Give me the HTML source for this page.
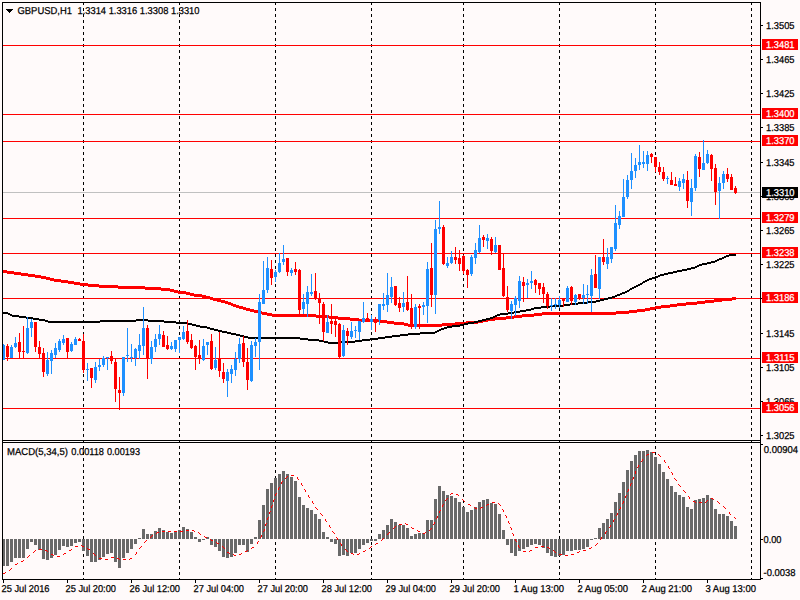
<!DOCTYPE html>
<html><head><meta charset="utf-8"><title>GBPUSD,H1</title>
<style>html,body{margin:0;padding:0;background:#FFFAFA;overflow:hidden}body{width:800px;height:600px;position:relative;font-family:"Liberation Sans",sans-serif}</style></head>
<body>
<svg width="800" height="600" viewBox="0 0 800 600" shape-rendering="crispEdges" style="position:absolute;left:0;top:0">
<rect x="0" y="0" width="800" height="600" fill="#FFFAFA"/>
<g stroke="#000" stroke-width="1" stroke-dasharray="3,3">
<line x1="83.5" y1="2" x2="83.5" y2="579"/>
<line x1="179.5" y1="2" x2="179.5" y2="579"/>
<line x1="275.5" y1="2" x2="275.5" y2="579"/>
<line x1="371.5" y1="2" x2="371.5" y2="579"/>
<line x1="463.5" y1="2" x2="463.5" y2="579"/>
<line x1="559.5" y1="2" x2="559.5" y2="579"/>
<line x1="655.5" y1="2" x2="655.5" y2="579"/>
<line x1="751.5" y1="2" x2="751.5" y2="579"/>
</g>
<g fill="#FF0000">
<rect x="3" y="45" width="757" height="1"/>
<rect x="3" y="114" width="757" height="1"/>
<rect x="3" y="141" width="757" height="1"/>
<rect x="3" y="218" width="757" height="1"/>
<rect x="3" y="253" width="757" height="1"/>
<rect x="3" y="298" width="757" height="1"/>
<rect x="3" y="358" width="757" height="1"/>
<rect x="3" y="408" width="757" height="1"/>
</g>
<rect x="3" y="192" width="757" height="1" fill="#C0C0C0"/>
<g fill="#FF0000">
<rect x="3" y="270" width="4" height="3"/>
<rect x="7" y="271" width="7" height="3"/>
<rect x="14" y="272" width="7" height="3"/>
<rect x="21" y="273" width="7" height="3"/>
<rect x="28" y="274" width="7" height="3"/>
<rect x="35" y="275" width="6" height="3"/>
<rect x="41" y="276" width="5" height="3"/>
<rect x="46" y="277" width="4" height="3"/>
<rect x="50" y="278" width="4" height="3"/>
<rect x="54" y="279" width="7" height="3"/>
<rect x="61" y="280" width="7" height="3"/>
<rect x="68" y="281" width="6" height="3"/>
<rect x="74" y="282" width="6" height="3"/>
<rect x="80" y="283" width="8" height="3"/>
<rect x="88" y="284" width="11" height="3"/>
<rect x="99" y="285" width="19" height="3"/>
<rect x="118" y="286" width="27" height="3"/>
<rect x="145" y="287" width="16" height="3"/>
<rect x="161" y="288" width="9" height="3"/>
<rect x="170" y="289" width="4" height="3"/>
<rect x="174" y="290" width="4" height="3"/>
<rect x="178" y="291" width="8" height="3"/>
<rect x="186" y="292" width="4" height="3"/>
<rect x="190" y="293" width="4" height="3"/>
<rect x="194" y="294" width="8" height="3"/>
<rect x="202" y="295" width="4" height="3"/>
<rect x="206" y="296" width="4" height="3"/>
<rect x="210" y="297" width="3" height="3"/>
<rect x="213" y="298" width="4" height="3"/>
<rect x="217" y="299" width="4" height="3"/>
<rect x="221" y="300" width="4" height="3"/>
<rect x="225" y="301" width="3" height="3"/>
<rect x="228" y="302" width="3" height="3"/>
<rect x="231" y="303" width="2" height="3"/>
<rect x="233" y="304" width="3" height="3"/>
<rect x="236" y="305" width="3" height="3"/>
<rect x="239" y="306" width="4" height="3"/>
<rect x="243" y="307" width="3" height="3"/>
<rect x="246" y="308" width="4" height="3"/>
<rect x="250" y="309" width="4" height="3"/>
<rect x="254" y="310" width="4" height="3"/>
<rect x="258" y="311" width="4" height="3"/>
<rect x="262" y="312" width="5" height="3"/>
<rect x="267" y="313" width="5" height="3"/>
<rect x="272" y="314" width="44" height="3"/>
<rect x="316" y="315" width="13" height="3"/>
<rect x="329" y="316" width="9" height="3"/>
<rect x="338" y="317" width="12" height="3"/>
<rect x="350" y="318" width="9" height="3"/>
<rect x="359" y="319" width="21" height="3"/>
<rect x="380" y="320" width="7" height="3"/>
<rect x="387" y="321" width="7" height="3"/>
<rect x="394" y="322" width="10" height="3"/>
<rect x="404" y="323" width="4" height="3"/>
<rect x="408" y="324" width="34" height="3"/>
<rect x="442" y="323" width="13" height="3"/>
<rect x="455" y="322" width="11" height="3"/>
<rect x="466" y="321" width="12" height="3"/>
<rect x="478" y="320" width="5" height="3"/>
<rect x="483" y="319" width="5" height="3"/>
<rect x="488" y="318" width="7" height="3"/>
<rect x="495" y="317" width="11" height="3"/>
<rect x="506" y="316" width="8" height="3"/>
<rect x="514" y="315" width="8" height="3"/>
<rect x="522" y="314" width="12" height="3"/>
<rect x="534" y="313" width="8" height="3"/>
<rect x="542" y="312" width="74" height="3"/>
<rect x="616" y="311" width="13" height="3"/>
<rect x="629" y="310" width="8" height="3"/>
<rect x="637" y="309" width="8" height="3"/>
<rect x="645" y="308" width="5" height="3"/>
<rect x="650" y="307" width="5" height="3"/>
<rect x="655" y="306" width="6" height="3"/>
<rect x="661" y="305" width="9" height="3"/>
<rect x="670" y="304" width="7" height="3"/>
<rect x="677" y="303" width="9" height="3"/>
<rect x="686" y="302" width="11" height="3"/>
<rect x="697" y="301" width="8" height="3"/>
<rect x="705" y="300" width="9" height="3"/>
<rect x="714" y="299" width="8" height="3"/>
<rect x="722" y="298" width="10" height="3"/>
<rect x="732" y="297" width="4" height="3"/>
</g>
<g fill="#000">
<rect x="3" y="312" width="5" height="2"/>
<rect x="8" y="313" width="2" height="2"/>
<rect x="10" y="314" width="2" height="2"/>
<rect x="12" y="315" width="7" height="2"/>
<rect x="19" y="316" width="7" height="2"/>
<rect x="26" y="317" width="7" height="2"/>
<rect x="33" y="318" width="6" height="2"/>
<rect x="39" y="319" width="6" height="2"/>
<rect x="45" y="320" width="3" height="2"/>
<rect x="48" y="321" width="52" height="2"/>
<rect x="100" y="320" width="36" height="2"/>
<rect x="136" y="319" width="12" height="2"/>
<rect x="148" y="320" width="16" height="2"/>
<rect x="164" y="321" width="12" height="2"/>
<rect x="176" y="322" width="12" height="2"/>
<rect x="188" y="323" width="4" height="2"/>
<rect x="192" y="324" width="4" height="2"/>
<rect x="196" y="325" width="4" height="2"/>
<rect x="200" y="326" width="7" height="2"/>
<rect x="207" y="327" width="3" height="2"/>
<rect x="210" y="328" width="4" height="2"/>
<rect x="214" y="329" width="4" height="2"/>
<rect x="218" y="330" width="4" height="2"/>
<rect x="222" y="331" width="5" height="2"/>
<rect x="227" y="332" width="4" height="2"/>
<rect x="231" y="333" width="5" height="2"/>
<rect x="236" y="334" width="4" height="2"/>
<rect x="240" y="335" width="4" height="2"/>
<rect x="244" y="336" width="4" height="2"/>
<rect x="248" y="337" width="52" height="2"/>
<rect x="300" y="338" width="8" height="2"/>
<rect x="308" y="339" width="11" height="2"/>
<rect x="319" y="340" width="5" height="2"/>
<rect x="324" y="341" width="4" height="2"/>
<rect x="328" y="342" width="10" height="2"/>
<rect x="338" y="341" width="17" height="2"/>
<rect x="355" y="340" width="7" height="2"/>
<rect x="362" y="339" width="8" height="2"/>
<rect x="370" y="338" width="8" height="2"/>
<rect x="378" y="337" width="7" height="2"/>
<rect x="385" y="336" width="7" height="2"/>
<rect x="392" y="335" width="8" height="2"/>
<rect x="400" y="334" width="8" height="2"/>
<rect x="408" y="333" width="12" height="2"/>
<rect x="420" y="332" width="15" height="2"/>
<rect x="435" y="331" width="2" height="2"/>
<rect x="437" y="330" width="2" height="2"/>
<rect x="439" y="329" width="2" height="2"/>
<rect x="441" y="328" width="3" height="2"/>
<rect x="444" y="327" width="3" height="2"/>
<rect x="447" y="326" width="5" height="2"/>
<rect x="452" y="325" width="8" height="2"/>
<rect x="460" y="324" width="4" height="2"/>
<rect x="464" y="323" width="4" height="2"/>
<rect x="468" y="322" width="6" height="2"/>
<rect x="474" y="321" width="4" height="2"/>
<rect x="478" y="320" width="4" height="2"/>
<rect x="482" y="319" width="4" height="2"/>
<rect x="486" y="318" width="4" height="2"/>
<rect x="490" y="317" width="3" height="2"/>
<rect x="493" y="316" width="2" height="2"/>
<rect x="495" y="315" width="2" height="2"/>
<rect x="497" y="314" width="3" height="2"/>
<rect x="500" y="313" width="8" height="2"/>
<rect x="508" y="312" width="6" height="2"/>
<rect x="514" y="311" width="6" height="2"/>
<rect x="520" y="310" width="6" height="2"/>
<rect x="526" y="309" width="5" height="2"/>
<rect x="531" y="308" width="3" height="2"/>
<rect x="534" y="307" width="7" height="2"/>
<rect x="541" y="306" width="9" height="2"/>
<rect x="550" y="305" width="13" height="2"/>
<rect x="563" y="304" width="7" height="2"/>
<rect x="570" y="303" width="8" height="2"/>
<rect x="578" y="302" width="10" height="2"/>
<rect x="588" y="301" width="8" height="2"/>
<rect x="596" y="300" width="4" height="2"/>
<rect x="600" y="299" width="4" height="2"/>
<rect x="604" y="298" width="4" height="2"/>
<rect x="608" y="297" width="4" height="2"/>
<rect x="612" y="296" width="3" height="2"/>
<rect x="615" y="295" width="2" height="2"/>
<rect x="617" y="294" width="3" height="2"/>
<rect x="620" y="293" width="2" height="2"/>
<rect x="622" y="292" width="3" height="2"/>
<rect x="625" y="291" width="2" height="2"/>
<rect x="627" y="290" width="2" height="2"/>
<rect x="629" y="289" width="1" height="2"/>
<rect x="630" y="288" width="2" height="2"/>
<rect x="632" y="287" width="2" height="2"/>
<rect x="634" y="286" width="2" height="2"/>
<rect x="636" y="285" width="2" height="2"/>
<rect x="638" y="284" width="2" height="2"/>
<rect x="640" y="283" width="2" height="2"/>
<rect x="642" y="282" width="1" height="2"/>
<rect x="643" y="281" width="2" height="2"/>
<rect x="645" y="280" width="2" height="2"/>
<rect x="647" y="279" width="2" height="2"/>
<rect x="649" y="278" width="3" height="2"/>
<rect x="652" y="277" width="3" height="2"/>
<rect x="655" y="276" width="3" height="2"/>
<rect x="658" y="275" width="2" height="2"/>
<rect x="660" y="274" width="4" height="2"/>
<rect x="664" y="273" width="4" height="2"/>
<rect x="668" y="272" width="5" height="2"/>
<rect x="673" y="271" width="4" height="2"/>
<rect x="677" y="270" width="5" height="2"/>
<rect x="682" y="269" width="5" height="2"/>
<rect x="687" y="268" width="4" height="2"/>
<rect x="691" y="267" width="4" height="2"/>
<rect x="695" y="266" width="2" height="2"/>
<rect x="697" y="265" width="2" height="2"/>
<rect x="699" y="264" width="3" height="2"/>
<rect x="702" y="263" width="5" height="2"/>
<rect x="707" y="262" width="4" height="2"/>
<rect x="711" y="261" width="4" height="2"/>
<rect x="715" y="260" width="2" height="2"/>
<rect x="717" y="259" width="2" height="2"/>
<rect x="719" y="258" width="3" height="2"/>
<rect x="722" y="257" width="2" height="2"/>
<rect x="724" y="256" width="2" height="2"/>
<rect x="726" y="255" width="3" height="2"/>
<rect x="729" y="254" width="7" height="2"/>
</g>
<g fill="#1E90FF">
<rect x="3" y="344" width="1" height="16"/>
<rect x="2" y="345" width="3" height="15"/>
<rect x="11" y="345" width="1" height="13"/>
<rect x="10" y="347" width="3" height="11"/>
<rect x="15" y="337" width="1" height="11"/>
<rect x="14" y="343" width="3" height="4"/>
<rect x="27" y="317" width="1" height="37"/>
<rect x="26" y="328" width="3" height="25"/>
<rect x="31" y="319" width="1" height="18"/>
<rect x="30" y="322" width="3" height="6"/>
<rect x="47" y="352" width="1" height="24"/>
<rect x="46" y="360" width="3" height="14"/>
<rect x="51" y="350" width="1" height="24"/>
<rect x="50" y="353" width="3" height="8"/>
<rect x="55" y="343" width="1" height="15"/>
<rect x="54" y="348" width="3" height="7"/>
<rect x="59" y="339" width="1" height="13"/>
<rect x="58" y="341" width="3" height="9"/>
<rect x="63" y="335" width="1" height="10"/>
<rect x="62" y="339" width="3" height="4"/>
<rect x="71" y="342" width="1" height="10"/>
<rect x="70" y="344" width="3" height="7"/>
<rect x="75" y="337" width="1" height="8"/>
<rect x="74" y="339" width="3" height="6"/>
<rect x="87" y="363" width="1" height="18"/>
<rect x="86" y="369" width="3" height="1"/>
<rect x="95" y="362" width="1" height="21"/>
<rect x="94" y="367" width="3" height="13"/>
<rect x="99" y="359" width="1" height="12"/>
<rect x="98" y="365" width="3" height="2"/>
<rect x="103" y="356" width="1" height="11"/>
<rect x="102" y="358" width="3" height="7"/>
<rect x="107" y="357" width="1" height="13"/>
<rect x="106" y="357" width="3" height="1"/>
<rect x="123" y="357" width="1" height="39"/>
<rect x="122" y="357" width="3" height="36"/>
<rect x="127" y="328" width="1" height="34"/>
<rect x="126" y="355" width="3" height="1"/>
<rect x="131" y="344" width="1" height="18"/>
<rect x="130" y="357" width="3" height="1"/>
<rect x="135" y="348" width="1" height="18"/>
<rect x="134" y="349" width="3" height="9"/>
<rect x="139" y="334" width="1" height="25"/>
<rect x="138" y="345" width="3" height="6"/>
<rect x="143" y="307" width="1" height="48"/>
<rect x="142" y="328" width="3" height="18"/>
<rect x="151" y="341" width="1" height="23"/>
<rect x="150" y="347" width="3" height="12"/>
<rect x="155" y="334" width="1" height="18"/>
<rect x="154" y="339" width="3" height="8"/>
<rect x="159" y="325" width="1" height="20"/>
<rect x="158" y="334" width="3" height="5"/>
<rect x="171" y="342" width="1" height="8"/>
<rect x="170" y="346" width="3" height="3"/>
<rect x="175" y="340" width="1" height="12"/>
<rect x="174" y="340" width="3" height="9"/>
<rect x="179" y="337" width="1" height="16"/>
<rect x="178" y="337" width="3" height="3"/>
<rect x="183" y="326" width="1" height="14"/>
<rect x="182" y="332" width="3" height="7"/>
<rect x="203" y="339" width="1" height="22"/>
<rect x="202" y="346" width="3" height="14"/>
<rect x="207" y="342" width="1" height="13"/>
<rect x="206" y="342" width="3" height="3"/>
<rect x="215" y="347" width="1" height="23"/>
<rect x="214" y="360" width="3" height="8"/>
<rect x="227" y="369" width="1" height="28"/>
<rect x="226" y="372" width="3" height="9"/>
<rect x="231" y="365" width="1" height="18"/>
<rect x="230" y="369" width="3" height="5"/>
<rect x="235" y="352" width="1" height="24"/>
<rect x="234" y="359" width="3" height="11"/>
<rect x="239" y="338" width="1" height="25"/>
<rect x="238" y="344" width="3" height="15"/>
<rect x="251" y="341" width="1" height="41"/>
<rect x="250" y="345" width="3" height="36"/>
<rect x="255" y="338" width="1" height="19"/>
<rect x="254" y="342" width="3" height="4"/>
<rect x="259" y="294" width="1" height="76"/>
<rect x="258" y="302" width="3" height="40"/>
<rect x="263" y="261" width="1" height="43"/>
<rect x="262" y="290" width="3" height="14"/>
<rect x="267" y="257" width="1" height="36"/>
<rect x="266" y="268" width="3" height="22"/>
<rect x="275" y="270" width="1" height="12"/>
<rect x="274" y="272" width="3" height="5"/>
<rect x="279" y="253" width="1" height="20"/>
<rect x="278" y="263" width="3" height="9"/>
<rect x="283" y="245" width="1" height="20"/>
<rect x="282" y="259" width="3" height="3"/>
<rect x="291" y="268" width="1" height="8"/>
<rect x="290" y="270" width="3" height="3"/>
<rect x="303" y="294" width="1" height="20"/>
<rect x="302" y="302" width="3" height="7"/>
<rect x="307" y="286" width="1" height="31"/>
<rect x="306" y="292" width="3" height="12"/>
<rect x="311" y="274" width="1" height="22"/>
<rect x="310" y="292" width="3" height="2"/>
<rect x="327" y="315" width="1" height="18"/>
<rect x="326" y="322" width="3" height="11"/>
<rect x="343" y="325" width="1" height="32"/>
<rect x="342" y="330" width="3" height="26"/>
<rect x="351" y="322" width="1" height="17"/>
<rect x="350" y="331" width="3" height="6"/>
<rect x="355" y="326" width="1" height="12"/>
<rect x="354" y="330" width="3" height="1"/>
<rect x="359" y="321" width="1" height="19"/>
<rect x="358" y="321" width="3" height="11"/>
<rect x="363" y="302" width="1" height="21"/>
<rect x="362" y="318" width="3" height="4"/>
<rect x="371" y="315" width="1" height="15"/>
<rect x="370" y="319" width="3" height="3"/>
<rect x="379" y="304" width="1" height="21"/>
<rect x="378" y="304" width="3" height="16"/>
<rect x="383" y="293" width="1" height="17"/>
<rect x="382" y="304" width="3" height="2"/>
<rect x="387" y="273" width="1" height="39"/>
<rect x="386" y="295" width="3" height="10"/>
<rect x="391" y="277" width="1" height="26"/>
<rect x="390" y="287" width="3" height="10"/>
<rect x="403" y="292" width="1" height="20"/>
<rect x="402" y="303" width="3" height="4"/>
<rect x="415" y="304" width="1" height="25"/>
<rect x="414" y="307" width="3" height="20"/>
<rect x="423" y="302" width="1" height="13"/>
<rect x="422" y="305" width="3" height="2"/>
<rect x="427" y="262" width="1" height="61"/>
<rect x="426" y="269" width="3" height="37"/>
<rect x="435" y="220" width="1" height="94"/>
<rect x="434" y="229" width="3" height="66"/>
<rect x="439" y="201" width="1" height="33"/>
<rect x="438" y="227" width="3" height="2"/>
<rect x="447" y="257" width="1" height="11"/>
<rect x="446" y="263" width="3" height="3"/>
<rect x="451" y="251" width="1" height="13"/>
<rect x="450" y="257" width="3" height="6"/>
<rect x="471" y="255" width="1" height="21"/>
<rect x="470" y="257" width="3" height="17"/>
<rect x="475" y="243" width="1" height="21"/>
<rect x="474" y="250" width="3" height="8"/>
<rect x="479" y="225" width="1" height="28"/>
<rect x="478" y="238" width="3" height="14"/>
<rect x="487" y="234" width="1" height="15"/>
<rect x="486" y="238" width="3" height="3"/>
<rect x="495" y="237" width="1" height="16"/>
<rect x="494" y="245" width="3" height="7"/>
<rect x="511" y="301" width="1" height="18"/>
<rect x="510" y="304" width="3" height="7"/>
<rect x="515" y="296" width="1" height="20"/>
<rect x="514" y="298" width="3" height="7"/>
<rect x="519" y="276" width="1" height="32"/>
<rect x="518" y="281" width="3" height="20"/>
<rect x="527" y="279" width="1" height="19"/>
<rect x="526" y="283" width="3" height="2"/>
<rect x="531" y="271" width="1" height="18"/>
<rect x="530" y="281" width="3" height="2"/>
<rect x="551" y="298" width="1" height="13"/>
<rect x="550" y="305" width="3" height="1"/>
<rect x="555" y="298" width="1" height="11"/>
<rect x="554" y="304" width="3" height="1"/>
<rect x="559" y="296" width="1" height="12"/>
<rect x="558" y="300" width="3" height="5"/>
<rect x="567" y="286" width="1" height="16"/>
<rect x="566" y="288" width="3" height="14"/>
<rect x="575" y="294" width="1" height="11"/>
<rect x="574" y="295" width="3" height="7"/>
<rect x="583" y="284" width="1" height="20"/>
<rect x="582" y="295" width="3" height="3"/>
<rect x="587" y="285" width="1" height="19"/>
<rect x="586" y="294" width="3" height="1"/>
<rect x="591" y="269" width="1" height="43"/>
<rect x="590" y="275" width="3" height="21"/>
<rect x="599" y="257" width="1" height="42"/>
<rect x="598" y="257" width="3" height="32"/>
<rect x="607" y="248" width="1" height="21"/>
<rect x="606" y="257" width="3" height="7"/>
<rect x="611" y="247" width="1" height="16"/>
<rect x="610" y="247" width="3" height="12"/>
<rect x="615" y="205" width="1" height="46"/>
<rect x="614" y="223" width="3" height="26"/>
<rect x="619" y="211" width="1" height="18"/>
<rect x="618" y="216" width="3" height="9"/>
<rect x="623" y="179" width="1" height="38"/>
<rect x="622" y="197" width="3" height="20"/>
<rect x="627" y="175" width="1" height="24"/>
<rect x="626" y="180" width="3" height="17"/>
<rect x="631" y="153" width="1" height="36"/>
<rect x="630" y="171" width="3" height="9"/>
<rect x="635" y="158" width="1" height="20"/>
<rect x="634" y="165" width="3" height="6"/>
<rect x="639" y="145" width="1" height="25"/>
<rect x="638" y="162" width="3" height="3"/>
<rect x="643" y="151" width="1" height="17"/>
<rect x="642" y="162" width="3" height="2"/>
<rect x="647" y="151" width="1" height="20"/>
<rect x="646" y="155" width="3" height="9"/>
<rect x="667" y="176" width="1" height="8"/>
<rect x="666" y="178" width="3" height="1"/>
<rect x="679" y="178" width="1" height="13"/>
<rect x="678" y="181" width="3" height="6"/>
<rect x="683" y="174" width="1" height="15"/>
<rect x="682" y="179" width="3" height="4"/>
<rect x="691" y="179" width="1" height="37"/>
<rect x="690" y="188" width="3" height="14"/>
<rect x="695" y="154" width="1" height="37"/>
<rect x="694" y="156" width="3" height="32"/>
<rect x="703" y="140" width="1" height="30"/>
<rect x="702" y="163" width="3" height="7"/>
<rect x="707" y="150" width="1" height="14"/>
<rect x="706" y="154" width="3" height="9"/>
<rect x="719" y="177" width="1" height="42"/>
<rect x="718" y="183" width="3" height="8"/>
<rect x="723" y="171" width="1" height="18"/>
<rect x="722" y="174" width="3" height="9"/>
</g>
<g fill="#FF0000">
<rect x="7" y="344" width="1" height="17"/>
<rect x="6" y="346" width="3" height="11"/>
<rect x="19" y="333" width="1" height="25"/>
<rect x="18" y="342" width="3" height="10"/>
<rect x="23" y="326" width="1" height="32"/>
<rect x="22" y="351" width="3" height="1"/>
<rect x="35" y="322" width="1" height="30"/>
<rect x="34" y="322" width="3" height="25"/>
<rect x="39" y="341" width="1" height="18"/>
<rect x="38" y="347" width="3" height="7"/>
<rect x="43" y="348" width="1" height="29"/>
<rect x="42" y="353" width="3" height="19"/>
<rect x="67" y="338" width="1" height="20"/>
<rect x="66" y="338" width="3" height="14"/>
<rect x="79" y="338" width="1" height="3"/>
<rect x="78" y="339" width="3" height="2"/>
<rect x="83" y="334" width="1" height="39"/>
<rect x="82" y="341" width="3" height="29"/>
<rect x="91" y="368" width="1" height="20"/>
<rect x="90" y="368" width="3" height="10"/>
<rect x="111" y="351" width="1" height="13"/>
<rect x="110" y="356" width="3" height="5"/>
<rect x="115" y="358" width="1" height="44"/>
<rect x="114" y="362" width="3" height="27"/>
<rect x="119" y="377" width="1" height="33"/>
<rect x="118" y="390" width="3" height="3"/>
<rect x="147" y="325" width="1" height="54"/>
<rect x="146" y="328" width="3" height="30"/>
<rect x="163" y="331" width="1" height="16"/>
<rect x="162" y="335" width="3" height="12"/>
<rect x="167" y="336" width="1" height="14"/>
<rect x="166" y="345" width="3" height="4"/>
<rect x="187" y="320" width="1" height="24"/>
<rect x="186" y="331" width="3" height="11"/>
<rect x="191" y="334" width="1" height="15"/>
<rect x="190" y="340" width="3" height="8"/>
<rect x="195" y="345" width="1" height="25"/>
<rect x="194" y="346" width="3" height="11"/>
<rect x="199" y="340" width="1" height="24"/>
<rect x="198" y="355" width="3" height="3"/>
<rect x="211" y="334" width="1" height="36"/>
<rect x="210" y="341" width="3" height="28"/>
<rect x="219" y="332" width="1" height="45"/>
<rect x="218" y="358" width="3" height="13"/>
<rect x="223" y="363" width="1" height="20"/>
<rect x="222" y="372" width="3" height="7"/>
<rect x="243" y="336" width="1" height="31"/>
<rect x="242" y="343" width="3" height="19"/>
<rect x="247" y="348" width="1" height="42"/>
<rect x="246" y="362" width="3" height="18"/>
<rect x="271" y="260" width="1" height="25"/>
<rect x="270" y="269" width="3" height="9"/>
<rect x="287" y="258" width="1" height="18"/>
<rect x="286" y="258" width="3" height="14"/>
<rect x="295" y="262" width="1" height="13"/>
<rect x="294" y="269" width="3" height="3"/>
<rect x="299" y="269" width="1" height="45"/>
<rect x="298" y="270" width="3" height="40"/>
<rect x="315" y="273" width="1" height="27"/>
<rect x="314" y="291" width="3" height="7"/>
<rect x="319" y="293" width="1" height="31"/>
<rect x="318" y="298" width="3" height="5"/>
<rect x="323" y="302" width="1" height="39"/>
<rect x="322" y="304" width="3" height="28"/>
<rect x="331" y="304" width="1" height="30"/>
<rect x="330" y="321" width="3" height="3"/>
<rect x="335" y="319" width="1" height="18"/>
<rect x="334" y="321" width="3" height="4"/>
<rect x="339" y="323" width="1" height="35"/>
<rect x="338" y="324" width="3" height="33"/>
<rect x="347" y="328" width="1" height="17"/>
<rect x="346" y="331" width="3" height="5"/>
<rect x="367" y="313" width="1" height="9"/>
<rect x="366" y="318" width="3" height="3"/>
<rect x="375" y="317" width="1" height="15"/>
<rect x="374" y="319" width="3" height="4"/>
<rect x="395" y="286" width="1" height="20"/>
<rect x="394" y="286" width="3" height="19"/>
<rect x="399" y="297" width="1" height="15"/>
<rect x="398" y="303" width="3" height="5"/>
<rect x="407" y="276" width="1" height="35"/>
<rect x="406" y="302" width="3" height="8"/>
<rect x="411" y="294" width="1" height="35"/>
<rect x="410" y="308" width="3" height="19"/>
<rect x="419" y="304" width="1" height="25"/>
<rect x="418" y="306" width="3" height="2"/>
<rect x="431" y="243" width="1" height="64"/>
<rect x="430" y="268" width="3" height="27"/>
<rect x="443" y="225" width="1" height="40"/>
<rect x="442" y="227" width="3" height="37"/>
<rect x="455" y="247" width="1" height="17"/>
<rect x="454" y="257" width="3" height="3"/>
<rect x="459" y="250" width="1" height="21"/>
<rect x="458" y="258" width="3" height="6"/>
<rect x="463" y="255" width="1" height="19"/>
<rect x="462" y="256" width="3" height="15"/>
<rect x="467" y="269" width="1" height="19"/>
<rect x="466" y="270" width="3" height="5"/>
<rect x="483" y="235" width="1" height="12"/>
<rect x="482" y="237" width="3" height="3"/>
<rect x="491" y="237" width="1" height="18"/>
<rect x="490" y="239" width="3" height="12"/>
<rect x="499" y="245" width="1" height="25"/>
<rect x="498" y="245" width="3" height="25"/>
<rect x="503" y="254" width="1" height="43"/>
<rect x="502" y="268" width="3" height="28"/>
<rect x="507" y="286" width="1" height="26"/>
<rect x="506" y="297" width="3" height="13"/>
<rect x="523" y="277" width="1" height="25"/>
<rect x="522" y="282" width="3" height="4"/>
<rect x="535" y="279" width="1" height="14"/>
<rect x="534" y="280" width="3" height="5"/>
<rect x="539" y="283" width="1" height="12"/>
<rect x="538" y="283" width="3" height="6"/>
<rect x="543" y="283" width="1" height="20"/>
<rect x="542" y="287" width="3" height="7"/>
<rect x="547" y="292" width="1" height="17"/>
<rect x="546" y="294" width="3" height="12"/>
<rect x="563" y="298" width="1" height="9"/>
<rect x="562" y="299" width="3" height="2"/>
<rect x="571" y="286" width="1" height="19"/>
<rect x="570" y="287" width="3" height="14"/>
<rect x="579" y="294" width="1" height="6"/>
<rect x="578" y="294" width="3" height="5"/>
<rect x="595" y="255" width="1" height="33"/>
<rect x="594" y="274" width="3" height="14"/>
<rect x="603" y="239" width="1" height="26"/>
<rect x="602" y="257" width="3" height="5"/>
<rect x="651" y="153" width="1" height="10"/>
<rect x="650" y="154" width="3" height="3"/>
<rect x="655" y="157" width="1" height="15"/>
<rect x="654" y="157" width="3" height="10"/>
<rect x="659" y="162" width="1" height="13"/>
<rect x="658" y="167" width="3" height="5"/>
<rect x="663" y="167" width="1" height="14"/>
<rect x="662" y="172" width="3" height="7"/>
<rect x="671" y="172" width="1" height="13"/>
<rect x="670" y="180" width="3" height="5"/>
<rect x="675" y="177" width="1" height="9"/>
<rect x="674" y="184" width="3" height="2"/>
<rect x="687" y="171" width="1" height="37"/>
<rect x="686" y="180" width="3" height="21"/>
<rect x="699" y="152" width="1" height="25"/>
<rect x="698" y="157" width="3" height="12"/>
<rect x="711" y="154" width="1" height="27"/>
<rect x="710" y="155" width="3" height="14"/>
<rect x="715" y="164" width="1" height="41"/>
<rect x="714" y="168" width="3" height="24"/>
<rect x="727" y="168" width="1" height="14"/>
<rect x="726" y="174" width="3" height="5"/>
<rect x="731" y="174" width="1" height="16"/>
<rect x="730" y="177" width="3" height="13"/>
<rect x="735" y="186" width="1" height="8"/>
<rect x="734" y="188" width="3" height="5"/>
</g>
<g fill="#696969">
<rect x="2" y="539" width="3" height="27"/>
<rect x="6" y="539" width="3" height="27"/>
<rect x="10" y="539" width="3" height="23"/>
<rect x="14" y="539" width="3" height="19"/>
<rect x="18" y="539" width="3" height="19"/>
<rect x="22" y="539" width="3" height="19"/>
<rect x="26" y="539" width="3" height="10"/>
<rect x="30" y="539" width="3" height="3"/>
<rect x="34" y="539" width="3" height="6"/>
<rect x="38" y="539" width="3" height="11"/>
<rect x="42" y="539" width="3" height="20"/>
<rect x="46" y="539" width="3" height="21"/>
<rect x="50" y="539" width="3" height="19"/>
<rect x="54" y="539" width="3" height="16"/>
<rect x="58" y="539" width="3" height="11"/>
<rect x="62" y="539" width="3" height="7"/>
<rect x="66" y="539" width="3" height="8"/>
<rect x="70" y="539" width="3" height="7"/>
<rect x="74" y="539" width="3" height="4"/>
<rect x="78" y="539" width="3" height="3"/>
<rect x="82" y="539" width="3" height="12"/>
<rect x="86" y="539" width="3" height="17"/>
<rect x="90" y="539" width="3" height="23"/>
<rect x="94" y="539" width="3" height="23"/>
<rect x="98" y="539" width="3" height="21"/>
<rect x="102" y="539" width="3" height="18"/>
<rect x="106" y="539" width="3" height="15"/>
<rect x="110" y="539" width="3" height="14"/>
<rect x="114" y="539" width="3" height="23"/>
<rect x="118" y="539" width="3" height="29"/>
<rect x="122" y="539" width="3" height="19"/>
<rect x="126" y="539" width="3" height="14"/>
<rect x="130" y="539" width="3" height="10"/>
<rect x="134" y="539" width="3" height="5"/>
<rect x="138" y="538" width="3" height="1"/>
<rect x="142" y="529" width="3" height="10"/>
<rect x="146" y="534" width="3" height="5"/>
<rect x="150" y="534" width="3" height="5"/>
<rect x="154" y="531" width="3" height="8"/>
<rect x="158" y="528" width="3" height="11"/>
<rect x="162" y="530" width="3" height="9"/>
<rect x="166" y="532" width="3" height="7"/>
<rect x="170" y="533" width="3" height="6"/>
<rect x="174" y="531" width="3" height="8"/>
<rect x="178" y="530" width="3" height="9"/>
<rect x="182" y="527" width="3" height="12"/>
<rect x="186" y="529" width="3" height="10"/>
<rect x="190" y="532" width="3" height="7"/>
<rect x="194" y="537" width="3" height="2"/>
<rect x="198" y="539" width="3" height="3"/>
<rect x="202" y="539" width="3" height="1"/>
<rect x="206" y="537" width="3" height="2"/>
<rect x="210" y="539" width="3" height="6"/>
<rect x="214" y="539" width="3" height="8"/>
<rect x="218" y="539" width="3" height="12"/>
<rect x="222" y="539" width="3" height="18"/>
<rect x="226" y="539" width="3" height="19"/>
<rect x="230" y="539" width="3" height="18"/>
<rect x="234" y="539" width="3" height="14"/>
<rect x="238" y="539" width="3" height="6"/>
<rect x="242" y="539" width="3" height="6"/>
<rect x="246" y="539" width="3" height="13"/>
<rect x="250" y="539" width="3" height="5"/>
<rect x="254" y="537" width="3" height="2"/>
<rect x="258" y="520" width="3" height="19"/>
<rect x="262" y="505" width="3" height="34"/>
<rect x="266" y="489" width="3" height="50"/>
<rect x="270" y="483" width="3" height="56"/>
<rect x="274" y="478" width="3" height="61"/>
<rect x="278" y="474" width="3" height="65"/>
<rect x="282" y="471" width="3" height="68"/>
<rect x="286" y="474" width="3" height="65"/>
<rect x="290" y="477" width="3" height="62"/>
<rect x="294" y="481" width="3" height="58"/>
<rect x="298" y="497" width="3" height="42"/>
<rect x="302" y="505" width="3" height="34"/>
<rect x="306" y="508" width="3" height="31"/>
<rect x="310" y="510" width="3" height="29"/>
<rect x="314" y="514" width="3" height="25"/>
<rect x="318" y="519" width="3" height="20"/>
<rect x="322" y="532" width="3" height="7"/>
<rect x="326" y="537" width="3" height="2"/>
<rect x="330" y="539" width="3" height="3"/>
<rect x="334" y="539" width="3" height="5"/>
<rect x="338" y="539" width="3" height="17"/>
<rect x="342" y="539" width="3" height="16"/>
<rect x="346" y="539" width="3" height="17"/>
<rect x="350" y="539" width="3" height="14"/>
<rect x="354" y="539" width="3" height="14"/>
<rect x="358" y="539" width="3" height="10"/>
<rect x="362" y="539" width="3" height="6"/>
<rect x="366" y="539" width="3" height="4"/>
<rect x="370" y="539" width="3" height="2"/>
<rect x="374" y="539" width="3" height="2"/>
<rect x="378" y="534" width="3" height="5"/>
<rect x="382" y="530" width="3" height="9"/>
<rect x="386" y="525" width="3" height="14"/>
<rect x="390" y="519" width="3" height="20"/>
<rect x="394" y="522" width="3" height="17"/>
<rect x="398" y="525" width="3" height="14"/>
<rect x="402" y="525" width="3" height="14"/>
<rect x="406" y="528" width="3" height="11"/>
<rect x="410" y="536" width="3" height="3"/>
<rect x="414" y="534" width="3" height="5"/>
<rect x="418" y="533" width="3" height="6"/>
<rect x="422" y="533" width="3" height="6"/>
<rect x="426" y="520" width="3" height="19"/>
<rect x="430" y="520" width="3" height="19"/>
<rect x="434" y="499" width="3" height="40"/>
<rect x="438" y="486" width="3" height="53"/>
<rect x="442" y="491" width="3" height="48"/>
<rect x="446" y="495" width="3" height="44"/>
<rect x="450" y="496" width="3" height="43"/>
<rect x="454" y="498" width="3" height="41"/>
<rect x="458" y="502" width="3" height="37"/>
<rect x="462" y="507" width="3" height="32"/>
<rect x="466" y="512" width="3" height="27"/>
<rect x="470" y="510" width="3" height="29"/>
<rect x="474" y="507" width="3" height="32"/>
<rect x="478" y="502" width="3" height="37"/>
<rect x="482" y="500" width="3" height="39"/>
<rect x="486" y="499" width="3" height="40"/>
<rect x="490" y="503" width="3" height="36"/>
<rect x="494" y="504" width="3" height="35"/>
<rect x="498" y="514" width="3" height="25"/>
<rect x="502" y="530" width="3" height="9"/>
<rect x="506" y="539" width="3" height="6"/>
<rect x="510" y="539" width="3" height="14"/>
<rect x="514" y="539" width="3" height="17"/>
<rect x="518" y="539" width="3" height="12"/>
<rect x="522" y="539" width="3" height="10"/>
<rect x="526" y="539" width="3" height="8"/>
<rect x="530" y="539" width="3" height="6"/>
<rect x="534" y="539" width="3" height="5"/>
<rect x="538" y="539" width="3" height="6"/>
<rect x="542" y="539" width="3" height="9"/>
<rect x="546" y="539" width="3" height="14"/>
<rect x="550" y="539" width="3" height="17"/>
<rect x="554" y="539" width="3" height="18"/>
<rect x="558" y="539" width="3" height="17"/>
<rect x="562" y="539" width="3" height="16"/>
<rect x="566" y="539" width="3" height="12"/>
<rect x="570" y="539" width="3" height="12"/>
<rect x="574" y="539" width="3" height="11"/>
<rect x="578" y="539" width="3" height="11"/>
<rect x="582" y="539" width="3" height="10"/>
<rect x="586" y="539" width="3" height="8"/>
<rect x="590" y="539" width="3" height="1"/>
<rect x="594" y="538" width="3" height="1"/>
<rect x="598" y="528" width="3" height="11"/>
<rect x="602" y="523" width="3" height="16"/>
<rect x="606" y="519" width="3" height="20"/>
<rect x="610" y="513" width="3" height="26"/>
<rect x="614" y="502" width="3" height="37"/>
<rect x="618" y="493" width="3" height="46"/>
<rect x="622" y="482" width="3" height="57"/>
<rect x="626" y="470" width="3" height="69"/>
<rect x="630" y="461" width="3" height="78"/>
<rect x="634" y="455" width="3" height="84"/>
<rect x="638" y="451" width="3" height="88"/>
<rect x="642" y="451" width="3" height="88"/>
<rect x="646" y="450" width="3" height="89"/>
<rect x="650" y="452" width="3" height="87"/>
<rect x="654" y="457" width="3" height="82"/>
<rect x="658" y="464" width="3" height="75"/>
<rect x="662" y="472" width="3" height="67"/>
<rect x="666" y="479" width="3" height="60"/>
<rect x="670" y="486" width="3" height="53"/>
<rect x="674" y="492" width="3" height="47"/>
<rect x="678" y="495" width="3" height="44"/>
<rect x="682" y="497" width="3" height="42"/>
<rect x="686" y="507" width="3" height="32"/>
<rect x="690" y="509" width="3" height="30"/>
<rect x="694" y="500" width="3" height="39"/>
<rect x="698" y="499" width="3" height="40"/>
<rect x="702" y="498" width="3" height="41"/>
<rect x="706" y="495" width="3" height="44"/>
<rect x="710" y="498" width="3" height="41"/>
<rect x="714" y="509" width="3" height="30"/>
<rect x="718" y="514" width="3" height="25"/>
<rect x="722" y="514" width="3" height="25"/>
<rect x="726" y="516" width="3" height="23"/>
<rect x="730" y="521" width="3" height="18"/>
<rect x="734" y="526" width="3" height="13"/>
</g>
<g fill="#FF0000">
<rect x="3" y="573" width="2" height="1"/>
<rect x="5" y="572" width="1" height="1"/>
<rect x="9" y="570" width="1" height="1"/>
<rect x="10" y="569" width="1" height="1"/>
<rect x="11" y="568" width="1" height="1"/>
<rect x="15" y="564" width="2" height="1"/>
<rect x="17" y="563" width="1" height="1"/>
<rect x="21" y="561" width="2" height="1"/>
<rect x="23" y="560" width="1" height="1"/>
<rect x="27" y="557" width="1" height="1"/>
<rect x="28" y="556" width="1" height="1"/>
<rect x="29" y="555" width="1" height="1"/>
<rect x="33" y="552" width="1" height="1"/>
<rect x="34" y="551" width="1" height="1"/>
<rect x="35" y="550" width="1" height="1"/>
<rect x="39" y="549" width="3" height="1"/>
<rect x="45" y="550" width="2" height="1"/>
<rect x="47" y="551" width="1" height="1"/>
<rect x="51" y="554" width="2" height="1"/>
<rect x="53" y="555" width="1" height="1"/>
<rect x="57" y="556" width="3" height="1"/>
<rect x="63" y="554" width="1" height="1"/>
<rect x="64" y="553" width="2" height="1"/>
<rect x="69" y="550" width="2" height="1"/>
<rect x="71" y="549" width="1" height="1"/>
<rect x="75" y="546" width="3" height="1"/>
<rect x="81" y="545" width="1" height="1"/>
<rect x="82" y="546" width="2" height="1"/>
<rect x="87" y="548" width="1" height="1"/>
<rect x="88" y="549" width="2" height="1"/>
<rect x="93" y="553" width="1" height="1"/>
<rect x="94" y="554" width="1" height="1"/>
<rect x="95" y="555" width="1" height="1"/>
<rect x="99" y="558" width="3" height="1"/>
<rect x="105" y="559" width="3" height="1"/>
<rect x="111" y="557" width="3" height="1"/>
<rect x="117" y="558" width="2" height="1"/>
<rect x="119" y="559" width="1" height="1"/>
<rect x="123" y="559" width="3" height="1"/>
<rect x="129" y="559" width="1" height="1"/>
<rect x="130" y="558" width="2" height="1"/>
<rect x="135" y="554" width="1" height="1"/>
<rect x="136" y="553" width="1" height="1"/>
<rect x="136" y="552" width="1" height="1"/>
<rect x="139" y="548" width="1" height="1"/>
<rect x="140" y="547" width="1" height="1"/>
<rect x="141" y="546" width="1" height="1"/>
<rect x="144" y="542" width="1" height="1"/>
<rect x="145" y="541" width="1" height="1"/>
<rect x="146" y="540" width="1" height="1"/>
<rect x="150" y="537" width="1" height="1"/>
<rect x="151" y="536" width="1" height="1"/>
<rect x="152" y="535" width="1" height="1"/>
<rect x="156" y="533" width="1" height="1"/>
<rect x="157" y="532" width="2" height="1"/>
<rect x="162" y="531" width="3" height="1"/>
<rect x="168" y="531" width="3" height="1"/>
<rect x="174" y="531" width="3" height="1"/>
<rect x="180" y="531" width="3" height="1"/>
<rect x="186" y="530" width="3" height="1"/>
<rect x="192" y="530" width="2" height="1"/>
<rect x="194" y="531" width="1" height="1"/>
<rect x="198" y="532" width="1" height="1"/>
<rect x="199" y="533" width="1" height="1"/>
<rect x="200" y="534" width="1" height="1"/>
<rect x="204" y="536" width="1" height="1"/>
<rect x="205" y="537" width="2" height="1"/>
<rect x="210" y="539" width="1" height="1"/>
<rect x="211" y="540" width="2" height="1"/>
<rect x="216" y="542" width="1" height="1"/>
<rect x="217" y="543" width="2" height="1"/>
<rect x="222" y="546" width="1" height="1"/>
<rect x="223" y="547" width="1" height="1"/>
<rect x="224" y="548" width="1" height="1"/>
<rect x="227" y="552" width="2" height="1"/>
<rect x="229" y="553" width="1" height="1"/>
<rect x="233" y="554" width="1" height="1"/>
<rect x="234" y="555" width="2" height="1"/>
<rect x="239" y="554" width="2" height="1"/>
<rect x="241" y="553" width="1" height="1"/>
<rect x="245" y="551" width="2" height="1"/>
<rect x="247" y="550" width="1" height="1"/>
<rect x="251" y="548" width="1" height="1"/>
<rect x="252" y="547" width="2" height="1"/>
<rect x="257" y="543" width="1" height="1"/>
<rect x="257" y="542" width="1" height="1"/>
<rect x="258" y="541" width="1" height="1"/>
<rect x="260" y="537" width="1" height="1"/>
<rect x="261" y="536" width="1" height="1"/>
<rect x="261" y="535" width="1" height="1"/>
<rect x="263" y="531" width="1" height="1"/>
<rect x="264" y="530" width="1" height="1"/>
<rect x="264" y="529" width="1" height="1"/>
<rect x="265" y="525" width="1" height="1"/>
<rect x="265" y="524" width="1" height="1"/>
<rect x="266" y="523" width="1" height="1"/>
<rect x="267" y="519" width="1" height="1"/>
<rect x="267" y="518" width="1" height="1"/>
<rect x="268" y="517" width="1" height="1"/>
<rect x="269" y="513" width="1" height="1"/>
<rect x="269" y="512" width="1" height="1"/>
<rect x="270" y="511" width="1" height="1"/>
<rect x="271" y="507" width="1" height="1"/>
<rect x="271" y="506" width="1" height="1"/>
<rect x="272" y="505" width="1" height="1"/>
<rect x="273" y="501" width="1" height="1"/>
<rect x="273" y="500" width="1" height="1"/>
<rect x="274" y="499" width="1" height="1"/>
<rect x="275" y="495" width="1" height="1"/>
<rect x="275" y="494" width="1" height="1"/>
<rect x="276" y="493" width="1" height="1"/>
<rect x="278" y="489" width="1" height="1"/>
<rect x="278" y="488" width="1" height="1"/>
<rect x="279" y="487" width="1" height="1"/>
<rect x="281" y="483" width="1" height="1"/>
<rect x="281" y="482" width="1" height="1"/>
<rect x="282" y="481" width="1" height="1"/>
<rect x="285" y="478" width="1" height="1"/>
<rect x="286" y="477" width="1" height="1"/>
<rect x="287" y="476" width="1" height="1"/>
<rect x="291" y="475" width="3" height="1"/>
<rect x="297" y="477" width="1" height="1"/>
<rect x="297" y="478" width="1" height="1"/>
<rect x="298" y="479" width="1" height="1"/>
<rect x="301" y="483" width="1" height="1"/>
<rect x="301" y="484" width="1" height="1"/>
<rect x="302" y="485" width="1" height="1"/>
<rect x="304" y="489" width="1" height="1"/>
<rect x="305" y="490" width="1" height="1"/>
<rect x="305" y="491" width="1" height="1"/>
<rect x="308" y="495" width="1" height="1"/>
<rect x="308" y="496" width="1" height="1"/>
<rect x="309" y="497" width="1" height="1"/>
<rect x="312" y="501" width="1" height="1"/>
<rect x="312" y="502" width="1" height="1"/>
<rect x="313" y="503" width="1" height="1"/>
<rect x="315" y="507" width="1" height="1"/>
<rect x="316" y="508" width="1" height="1"/>
<rect x="317" y="509" width="1" height="1"/>
<rect x="320" y="513" width="1" height="1"/>
<rect x="321" y="514" width="1" height="1"/>
<rect x="322" y="515" width="1" height="1"/>
<rect x="325" y="519" width="1" height="1"/>
<rect x="325" y="520" width="1" height="1"/>
<rect x="326" y="521" width="1" height="1"/>
<rect x="329" y="525" width="1" height="1"/>
<rect x="329" y="526" width="1" height="1"/>
<rect x="330" y="527" width="1" height="1"/>
<rect x="332" y="531" width="1" height="1"/>
<rect x="333" y="532" width="1" height="1"/>
<rect x="334" y="533" width="1" height="1"/>
<rect x="336" y="537" width="1" height="1"/>
<rect x="337" y="538" width="1" height="1"/>
<rect x="337" y="539" width="1" height="1"/>
<rect x="340" y="543" width="1" height="1"/>
<rect x="341" y="544" width="1" height="1"/>
<rect x="341" y="545" width="1" height="1"/>
<rect x="345" y="549" width="1" height="1"/>
<rect x="346" y="550" width="1" height="1"/>
<rect x="347" y="551" width="1" height="1"/>
<rect x="351" y="553" width="2" height="1"/>
<rect x="353" y="554" width="1" height="1"/>
<rect x="357" y="554" width="2" height="1"/>
<rect x="359" y="553" width="1" height="1"/>
<rect x="363" y="551" width="2" height="1"/>
<rect x="365" y="550" width="1" height="1"/>
<rect x="369" y="548" width="1" height="1"/>
<rect x="370" y="547" width="1" height="1"/>
<rect x="371" y="546" width="1" height="1"/>
<rect x="375" y="544" width="1" height="1"/>
<rect x="376" y="543" width="2" height="1"/>
<rect x="381" y="540" width="1" height="1"/>
<rect x="382" y="539" width="1" height="1"/>
<rect x="383" y="538" width="1" height="1"/>
<rect x="387" y="534" width="1" height="1"/>
<rect x="388" y="533" width="1" height="1"/>
<rect x="389" y="532" width="1" height="1"/>
<rect x="393" y="528" width="1" height="1"/>
<rect x="394" y="527" width="1" height="1"/>
<rect x="395" y="526" width="1" height="1"/>
<rect x="399" y="524" width="3" height="1"/>
<rect x="405" y="523" width="1" height="1"/>
<rect x="406" y="524" width="2" height="1"/>
<rect x="411" y="527" width="1" height="1"/>
<rect x="412" y="528" width="2" height="1"/>
<rect x="417" y="530" width="1" height="1"/>
<rect x="418" y="531" width="2" height="1"/>
<rect x="423" y="533" width="2" height="1"/>
<rect x="425" y="532" width="1" height="1"/>
<rect x="429" y="530" width="1" height="1"/>
<rect x="430" y="529" width="1" height="1"/>
<rect x="431" y="528" width="1" height="1"/>
<rect x="433" y="524" width="1" height="1"/>
<rect x="434" y="523" width="1" height="1"/>
<rect x="434" y="522" width="1" height="1"/>
<rect x="436" y="518" width="1" height="1"/>
<rect x="437" y="517" width="1" height="1"/>
<rect x="437" y="516" width="1" height="1"/>
<rect x="439" y="512" width="1" height="1"/>
<rect x="439" y="511" width="1" height="1"/>
<rect x="440" y="510" width="1" height="1"/>
<rect x="442" y="506" width="1" height="1"/>
<rect x="442" y="505" width="1" height="1"/>
<rect x="443" y="504" width="1" height="1"/>
<rect x="445" y="500" width="1" height="1"/>
<rect x="446" y="499" width="1" height="1"/>
<rect x="447" y="498" width="1" height="1"/>
<rect x="450" y="494" width="1" height="1"/>
<rect x="451" y="493" width="2" height="1"/>
<rect x="456" y="494" width="2" height="1"/>
<rect x="458" y="495" width="1" height="1"/>
<rect x="462" y="499" width="1" height="1"/>
<rect x="463" y="500" width="1" height="1"/>
<rect x="464" y="501" width="1" height="1"/>
<rect x="468" y="504" width="2" height="1"/>
<rect x="470" y="505" width="1" height="1"/>
<rect x="474" y="507" width="1" height="1"/>
<rect x="475" y="508" width="2" height="1"/>
<rect x="480" y="508" width="1" height="1"/>
<rect x="481" y="507" width="2" height="1"/>
<rect x="486" y="505" width="1" height="1"/>
<rect x="487" y="504" width="2" height="1"/>
<rect x="492" y="502" width="3" height="1"/>
<rect x="498" y="503" width="1" height="1"/>
<rect x="499" y="504" width="1" height="1"/>
<rect x="500" y="505" width="1" height="1"/>
<rect x="502" y="509" width="1" height="1"/>
<rect x="503" y="510" width="1" height="1"/>
<rect x="503" y="511" width="1" height="1"/>
<rect x="505" y="515" width="1" height="1"/>
<rect x="506" y="516" width="1" height="1"/>
<rect x="506" y="517" width="1" height="1"/>
<rect x="508" y="521" width="1" height="1"/>
<rect x="508" y="522" width="1" height="1"/>
<rect x="509" y="523" width="1" height="1"/>
<rect x="510" y="527" width="1" height="1"/>
<rect x="511" y="528" width="1" height="1"/>
<rect x="511" y="529" width="1" height="1"/>
<rect x="512" y="533" width="1" height="1"/>
<rect x="513" y="534" width="1" height="1"/>
<rect x="513" y="535" width="1" height="1"/>
<rect x="515" y="539" width="1" height="1"/>
<rect x="515" y="540" width="1" height="1"/>
<rect x="516" y="541" width="1" height="1"/>
<rect x="518" y="545" width="1" height="1"/>
<rect x="518" y="546" width="1" height="1"/>
<rect x="519" y="547" width="1" height="1"/>
<rect x="523" y="551" width="3" height="1"/>
<rect x="529" y="551" width="1" height="1"/>
<rect x="530" y="550" width="2" height="1"/>
<rect x="535" y="547" width="3" height="1"/>
<rect x="541" y="546" width="3" height="1"/>
<rect x="547" y="547" width="2" height="1"/>
<rect x="549" y="548" width="1" height="1"/>
<rect x="553" y="550" width="1" height="1"/>
<rect x="554" y="551" width="1" height="1"/>
<rect x="555" y="552" width="1" height="1"/>
<rect x="559" y="554" width="3" height="1"/>
<rect x="565" y="555" width="3" height="1"/>
<rect x="571" y="554" width="3" height="1"/>
<rect x="577" y="552" width="2" height="1"/>
<rect x="579" y="551" width="1" height="1"/>
<rect x="583" y="550" width="3" height="1"/>
<rect x="589" y="548" width="2" height="1"/>
<rect x="591" y="547" width="1" height="1"/>
<rect x="595" y="545" width="1" height="1"/>
<rect x="596" y="544" width="1" height="1"/>
<rect x="597" y="543" width="1" height="1"/>
<rect x="600" y="539" width="1" height="1"/>
<rect x="601" y="538" width="1" height="1"/>
<rect x="601" y="537" width="1" height="1"/>
<rect x="605" y="533" width="1" height="1"/>
<rect x="605" y="532" width="1" height="1"/>
<rect x="606" y="531" width="1" height="1"/>
<rect x="609" y="527" width="1" height="1"/>
<rect x="610" y="526" width="1" height="1"/>
<rect x="610" y="525" width="1" height="1"/>
<rect x="613" y="521" width="1" height="1"/>
<rect x="613" y="520" width="1" height="1"/>
<rect x="614" y="519" width="1" height="1"/>
<rect x="616" y="515" width="1" height="1"/>
<rect x="617" y="514" width="1" height="1"/>
<rect x="617" y="513" width="1" height="1"/>
<rect x="619" y="509" width="1" height="1"/>
<rect x="620" y="508" width="1" height="1"/>
<rect x="620" y="507" width="1" height="1"/>
<rect x="622" y="503" width="1" height="1"/>
<rect x="623" y="502" width="1" height="1"/>
<rect x="623" y="501" width="1" height="1"/>
<rect x="625" y="497" width="1" height="1"/>
<rect x="625" y="496" width="1" height="1"/>
<rect x="626" y="495" width="1" height="1"/>
<rect x="627" y="491" width="1" height="1"/>
<rect x="628" y="490" width="1" height="1"/>
<rect x="628" y="489" width="1" height="1"/>
<rect x="630" y="485" width="1" height="1"/>
<rect x="630" y="484" width="1" height="1"/>
<rect x="631" y="483" width="1" height="1"/>
<rect x="632" y="479" width="1" height="1"/>
<rect x="633" y="478" width="1" height="1"/>
<rect x="633" y="477" width="1" height="1"/>
<rect x="635" y="473" width="1" height="1"/>
<rect x="635" y="472" width="1" height="1"/>
<rect x="635" y="471" width="1" height="1"/>
<rect x="637" y="467" width="1" height="1"/>
<rect x="638" y="466" width="1" height="1"/>
<rect x="638" y="465" width="1" height="1"/>
<rect x="641" y="461" width="1" height="1"/>
<rect x="642" y="460" width="1" height="1"/>
<rect x="642" y="459" width="1" height="1"/>
<rect x="646" y="455" width="1" height="1"/>
<rect x="647" y="454" width="2" height="1"/>
<rect x="652" y="452" width="3" height="1"/>
<rect x="658" y="454" width="1" height="1"/>
<rect x="659" y="455" width="1" height="1"/>
<rect x="660" y="456" width="1" height="1"/>
<rect x="664" y="460" width="1" height="1"/>
<rect x="664" y="461" width="1" height="1"/>
<rect x="665" y="462" width="1" height="1"/>
<rect x="668" y="466" width="1" height="1"/>
<rect x="668" y="467" width="1" height="1"/>
<rect x="669" y="468" width="1" height="1"/>
<rect x="671" y="472" width="1" height="1"/>
<rect x="672" y="473" width="1" height="1"/>
<rect x="672" y="474" width="1" height="1"/>
<rect x="674" y="478" width="1" height="1"/>
<rect x="675" y="479" width="1" height="1"/>
<rect x="676" y="480" width="1" height="1"/>
<rect x="678" y="484" width="1" height="1"/>
<rect x="679" y="485" width="1" height="1"/>
<rect x="680" y="486" width="1" height="1"/>
<rect x="683" y="490" width="1" height="1"/>
<rect x="684" y="491" width="1" height="1"/>
<rect x="685" y="492" width="1" height="1"/>
<rect x="688" y="496" width="1" height="1"/>
<rect x="689" y="497" width="1" height="1"/>
<rect x="689" y="498" width="1" height="1"/>
<rect x="693" y="501" width="2" height="1"/>
<rect x="695" y="502" width="1" height="1"/>
<rect x="699" y="502" width="3" height="1"/>
<rect x="705" y="502" width="1" height="1"/>
<rect x="706" y="501" width="1" height="1"/>
<rect x="707" y="500" width="1" height="1"/>
<rect x="711" y="498" width="2" height="1"/>
<rect x="713" y="499" width="1" height="1"/>
<rect x="717" y="501" width="1" height="1"/>
<rect x="718" y="502" width="1" height="1"/>
<rect x="719" y="503" width="1" height="1"/>
<rect x="723" y="506" width="1" height="1"/>
<rect x="724" y="507" width="1" height="1"/>
<rect x="725" y="508" width="1" height="1"/>
<rect x="729" y="512" width="1" height="1"/>
<rect x="729" y="513" width="1" height="1"/>
<rect x="730" y="514" width="1" height="1"/>
<rect x="734" y="517" width="1" height="1"/>
<rect x="735" y="518" width="1" height="1"/>
</g>
<g fill="#000">
<rect x="2" y="2" width="759" height="1"/>
<rect x="2" y="2" width="1" height="578"/>
<rect x="760" y="2" width="1" height="578"/>
<rect x="2" y="440" width="759" height="1"/>
<rect x="2" y="442" width="759" height="1"/>
<rect x="2" y="579" width="759" height="1"/>
<rect x="761" y="25" width="2" height="1"/>
<rect x="761" y="59" width="2" height="1"/>
<rect x="761" y="93" width="2" height="1"/>
<rect x="761" y="127" width="2" height="1"/>
<rect x="761" y="162" width="2" height="1"/>
<rect x="761" y="196" width="2" height="1"/>
<rect x="761" y="230" width="2" height="1"/>
<rect x="761" y="264" width="2" height="1"/>
<rect x="761" y="298" width="2" height="1"/>
<rect x="761" y="333" width="2" height="1"/>
<rect x="761" y="367" width="2" height="1"/>
<rect x="761" y="401" width="2" height="1"/>
<rect x="761" y="435" width="2" height="1"/>
<rect x="761" y="444" width="2" height="1"/>
<rect x="761" y="539" width="2" height="1"/>
<rect x="761" y="578" width="2" height="1"/>
<rect x="3" y="580" width="1" height="3"/>
<rect x="67" y="580" width="1" height="3"/>
<rect x="131" y="580" width="1" height="3"/>
<rect x="195" y="580" width="1" height="3"/>
<rect x="259" y="580" width="1" height="3"/>
<rect x="323" y="580" width="1" height="3"/>
<rect x="387" y="580" width="1" height="3"/>
<rect x="451" y="580" width="1" height="3"/>
<rect x="515" y="580" width="1" height="3"/>
<rect x="579" y="580" width="1" height="3"/>
<rect x="643" y="580" width="1" height="3"/>
<rect x="707" y="580" width="1" height="3"/>
<rect x="6" y="9" width="7" height="1"/><rect x="7" y="10" width="5" height="1"/><rect x="8" y="11" width="3" height="1"/><rect x="9" y="12" width="1" height="1"/>
</g>
<g font-family="Liberation Sans, sans-serif" font-size="10px" fill="#000" stroke="#000" stroke-width="0.25" text-rendering="geometricPrecision">
<text x="766" y="29" textLength="28.5" lengthAdjust="spacingAndGlyphs">1.3505</text>
<text x="766" y="63" textLength="28.5" lengthAdjust="spacingAndGlyphs">1.3465</text>
<text x="766" y="97" textLength="28.5" lengthAdjust="spacingAndGlyphs">1.3425</text>
<text x="766" y="131" textLength="28.5" lengthAdjust="spacingAndGlyphs">1.3385</text>
<text x="766" y="166" textLength="28.5" lengthAdjust="spacingAndGlyphs">1.3345</text>
<text x="766" y="200" textLength="28.5" lengthAdjust="spacingAndGlyphs">1.3305</text>
<text x="766" y="234" textLength="28.5" lengthAdjust="spacingAndGlyphs">1.3265</text>
<text x="766" y="268" textLength="28.5" lengthAdjust="spacingAndGlyphs">1.3225</text>
<text x="766" y="302" textLength="28.5" lengthAdjust="spacingAndGlyphs">1.3185</text>
<text x="766" y="337" textLength="28.5" lengthAdjust="spacingAndGlyphs">1.3145</text>
<text x="766" y="371" textLength="28.5" lengthAdjust="spacingAndGlyphs">1.3105</text>
<text x="766" y="405" textLength="28.5" lengthAdjust="spacingAndGlyphs">1.3065</text>
<text x="766" y="439" textLength="28.5" lengthAdjust="spacingAndGlyphs">1.3025</text>
<text x="763.8" y="453" textLength="34.3" lengthAdjust="spacingAndGlyphs">0.00904</text>
<text x="763.5" y="543" textLength="18" lengthAdjust="spacingAndGlyphs">0.00</text>
<text x="763.5" y="576" textLength="32" lengthAdjust="spacingAndGlyphs">-0.0038</text>
<text x="1.5" y="592" textLength="48" lengthAdjust="spacingAndGlyphs">25 Jul 2016</text>
<text x="65.5" y="592" textLength="50.5" lengthAdjust="spacingAndGlyphs">25 Jul 20:00</text>
<text x="129.5" y="592" textLength="50.5" lengthAdjust="spacingAndGlyphs">26 Jul 12:00</text>
<text x="193.5" y="592" textLength="50.5" lengthAdjust="spacingAndGlyphs">27 Jul 04:00</text>
<text x="257.5" y="592" textLength="50.5" lengthAdjust="spacingAndGlyphs">27 Jul 20:00</text>
<text x="321.5" y="592" textLength="50.5" lengthAdjust="spacingAndGlyphs">28 Jul 12:00</text>
<text x="385.5" y="592" textLength="50.5" lengthAdjust="spacingAndGlyphs">29 Jul 04:00</text>
<text x="449.5" y="592" textLength="50.5" lengthAdjust="spacingAndGlyphs">29 Jul 20:00</text>
<text x="513.5" y="592" textLength="50.5" lengthAdjust="spacingAndGlyphs">1 Aug 13:00</text>
<text x="577.5" y="592" textLength="50.5" lengthAdjust="spacingAndGlyphs">2 Aug 05:00</text>
<text x="641.5" y="592" textLength="50.5" lengthAdjust="spacingAndGlyphs">2 Aug 21:00</text>
<text x="705.5" y="592" textLength="50.5" lengthAdjust="spacingAndGlyphs">3 Aug 13:00</text>
<text x="17.5" y="14" textLength="54.5" lengthAdjust="spacingAndGlyphs">GBPUSD,H1</text>
<text x="77.5" y="14" textLength="122" lengthAdjust="spacingAndGlyphs">1.3314 1.3316 1.3308 1.3310</text>
<text x="7" y="455" textLength="61" lengthAdjust="spacingAndGlyphs">MACD(5,34,5)</text>
<text x="71.3" y="455" textLength="32.7" lengthAdjust="spacingAndGlyphs">0.00118</text>
<text x="107" y="455" textLength="33" lengthAdjust="spacingAndGlyphs">0.00193</text>
</g>
<rect x="762" y="39" width="36" height="11" fill="#FF0000"/>
<rect x="762" y="108" width="36" height="11" fill="#FF0000"/>
<rect x="762" y="135" width="36" height="11" fill="#FF0000"/>
<rect x="762" y="212" width="36" height="11" fill="#FF0000"/>
<rect x="762" y="247" width="36" height="11" fill="#FF0000"/>
<rect x="762" y="292" width="36" height="11" fill="#FF0000"/>
<rect x="762" y="352" width="36" height="11" fill="#FF0000"/>
<rect x="762" y="402" width="36" height="11" fill="#FF0000"/>
<rect x="762" y="187" width="36" height="11" fill="#000"/>
<g font-family="Liberation Sans, sans-serif" font-size="10px" fill="#fff" stroke="#fff" stroke-width="0.25" text-rendering="geometricPrecision">
<text x="766" y="48" textLength="28.5" lengthAdjust="spacingAndGlyphs">1.3481</text>
<text x="766" y="117" textLength="28.5" lengthAdjust="spacingAndGlyphs">1.3400</text>
<text x="766" y="144" textLength="28.5" lengthAdjust="spacingAndGlyphs">1.3370</text>
<text x="766" y="221" textLength="28.5" lengthAdjust="spacingAndGlyphs">1.3279</text>
<text x="766" y="256" textLength="28.5" lengthAdjust="spacingAndGlyphs">1.3238</text>
<text x="766" y="301" textLength="28.5" lengthAdjust="spacingAndGlyphs">1.3186</text>
<text x="766" y="361" textLength="28.5" lengthAdjust="spacingAndGlyphs">1.3115</text>
<text x="766" y="411" textLength="28.5" lengthAdjust="spacingAndGlyphs">1.3056</text>
<text x="766" y="196" textLength="28.5" lengthAdjust="spacingAndGlyphs">1.3310</text>
</g>
</svg>
</body></html>
